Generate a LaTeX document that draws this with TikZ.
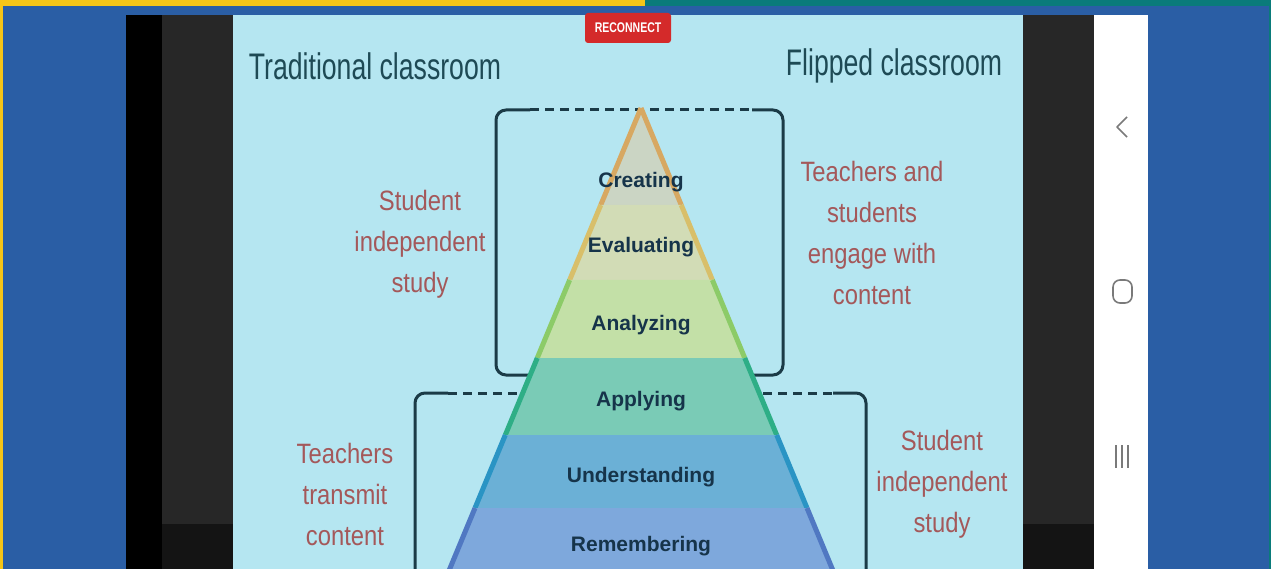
\documentclass[tikz,border=0pt]{standalone}
\usepackage{fontspec}
\setmainfont{Liberation Sans}
\newfontfamily\titlefont[FakeStretch=0.72]{Liberation Sans}
\newfontfamily\sidefont[FakeStretch=0.85]{Liberation Sans}
\newfontfamily\navfont[FakeStretch=0.75]{Liberation Sans}
\definecolor{bgblue}{HTML}{2A5EA5}
\definecolor{topyellow}{HTML}{F5C518}
\definecolor{topteal}{HTML}{0A7B7A}
\definecolor{phonegray}{HTML}{272727}
\definecolor{phonedark}{HTML}{141414}
\definecolor{slide}{HTML}{B5E6F1}
\definecolor{titleink}{HTML}{1E4A55}
\definecolor{levelink}{HTML}{16344A}
\definecolor{sideink}{HTML}{A4585A}
\definecolor{bracketink}{HTML}{1B3B47}
\definecolor{recred}{HTML}{D42A2A}
\definecolor{navgray}{HTML}{7A7A7A}
\definecolor{creafill}{HTML}{CBD5C4}
\definecolor{creaedge}{HTML}{D7A862}
\definecolor{evalfill}{HTML}{D2DCB6}
\definecolor{evaledge}{HTML}{D8BF6A}
\definecolor{analfill}{HTML}{C3E0A7}
\definecolor{analedge}{HTML}{8CCB68}
\definecolor{applfill}{HTML}{7ACBB6}
\definecolor{appledge}{HTML}{2EAE86}
\definecolor{undfill}{HTML}{6BB0D6}
\definecolor{undedge}{HTML}{2A94C4}
\definecolor{remfill}{HTML}{7EA8DC}
\definecolor{remedge}{HTML}{5078C2}

\begin{document}
\begin{tikzpicture}[x=1pt,y=-1pt,
        title/.style={text=titleink,font=\titlefont\fontsize{37}{40}\selectfont},
        level/.style={anchor=base,text=levelink,font=\bfseries\fontsize{21}{24}\selectfont},
        side/.style={align=center,text=sideink,font=\sidefont\fontsize{28}{41}\selectfont},
        bracket/.style={draw=bracketink,line width=3pt,rounded corners=10pt},
        gap/.style={draw=bracketink,line width=3pt,dash pattern=on 9pt off 6pt},
        reconnect/.style={fill=recred,rounded corners=3pt,text=white,minimum width=86pt,
            minimum height=30pt,font=\navfont\bfseries\fontsize{14}{16}\selectfont},
        nav/.style={draw=navgray,line width=1.6pt}]
        \clip (0,0) rectangle (1271,569);
        \fill[bgblue] (0,0) rectangle (1271,569);
        \fill[topyellow] (0,0) rectangle (645,6);
        \fill[topteal] (645,0) rectangle (1271,6);
        \fill[topyellow] (0,0) rectangle (3,569);
        \fill[topteal] (1269,0) rectangle (1271,569);
        \fill[black] (126,15) rectangle (162,569);
        \fill[phonegray] (162,15) rectangle (233,524);
        \fill[phonedark] (162,524) rectangle (233,569);
        \fill[phonegray] (1023,15) rectangle (1094,524);
        \fill[phonedark] (1023,524) rectangle (1094,569);
        \fill[white] (1094,15) rectangle (1148,569);
        \fill[slide] (233,15) rectangle (1023,569);

        \node[reconnect] (rec) at (628,28) {RECONNECT};
        \node[title] (trad) at (375,66) {Traditional classroom};
        \node[title] (flip) at (894,66) {Flipped classroom};

        \draw[bracket] (530,110) -- (496,110) -- (496,375) -- (783,375) -- (783,110) -- (752,110);
        \draw[gap] (530,110) -- (752,110);
        \draw[bracket] (448,393) -- (415,393) -- (415,600);
        \draw[bracket] (833,393) -- (866,393) -- (866,600);
        \draw[gap] (448,393) -- (833,393);

        \foreach \ya/\yb/\fc/\ec in {108/205/creafill/creaedge,205/280/evalfill/evaledge,
            280/358/analfill/analedge,358/435/applfill/appledge,
            435/508/undfill/undedge,508/575/remfill/remedge}{
            \fill[\fc] ({641-0.415*(\ya-108)},\ya) -- ({641+0.415*(\ya-108)},\ya)
                -- ({641+0.415*(\yb-108)},\yb) -- ({641-0.415*(\yb-108)},\yb) -- cycle;
            \draw[\ec,line width=5pt] ({641-0.415*(\ya-108)},\ya) -- ({641-0.415*(\yb-108)},\yb)
                ({641+0.415*(\ya-108)},\ya) -- ({641+0.415*(\yb-108)},\yb);
        }

        \node[level] (cre) at (641,188) {Creating};
        \node[level] (eva) at (641,253) {Evaluating};
        \node[level] (ana) at (641,330) {Analyzing};
        \node[level] (app) at (641,406) {Applying};
        \node[level] (und) at (641,482) {Understanding};
        \node[level] (rem) at (641,551) {Remembering};

        \node[side] (stul) at (420,244) {Student\\independent\\study};
        \node[side] (engr) at (872,233) {Teachers and\\students\\engage with\\content};
        \node[side] (tra) at (345,494) {Teachers\\transmit\\content};
        \node[side] (stur) at (942,484) {Student\\independent\\study};

        \draw[nav,line join=round] (1127,117) -- (1117,127) -- (1127,137);
        \draw[nav,rounded corners=7pt] (1113,280) rectangle (1132,303);
        \foreach \x in {1116,1122,1128}
            \draw[nav] (\x,445) -- (\x,468);
\end{tikzpicture}
\end{document}
